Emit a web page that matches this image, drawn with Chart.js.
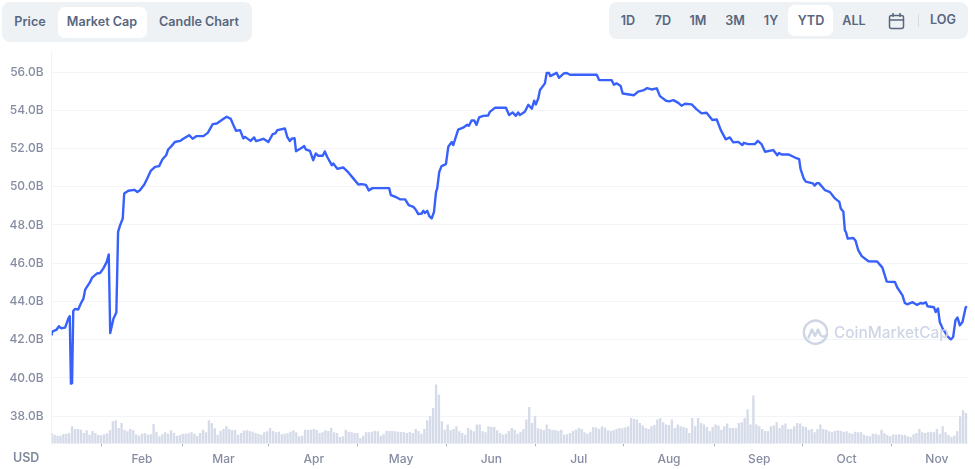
<!DOCTYPE html>
<html>
<head>
<meta charset="utf-8">
<title>Market Cap</title>
<script src="https://cdn.jsdelivr.net/npm/chart.js@4"></script>
<style>
  html, body { margin: 0; padding: 0; background: #fff; }
  body { width: 975px; height: 469px; position: relative; overflow: hidden; font-family: Inter, "Noto Sans", sans-serif; }
  canvas { position: absolute; left: 0; top: 0; }
  .group { position: absolute; background: #eff2f5; border-radius: 8px; }
  .active { position: absolute; background: #fff; border-radius: 7px; }
  .btn { position: absolute; font-weight: 600; font-size: 12.6px; line-height: 16px; color: #58667e; white-space: nowrap; transform: translateX(-50%); }
  .sep { position: absolute; left: 918px; top: 14px; width: 1px; height: 13px; background: #d6dbe4; }
  #usd { position: absolute; left: 13px; top: 449.5px; font-weight: 600; font-size: 12.5px; line-height: 16px; color: #808a9d; }
  #wm { position: absolute; left: 802px; top: 319px; width: 150px; height: 28px; }
  #wm span { position: absolute; left: 32px; top: 3px; font-size: 15.4px; line-height: 22px; font-weight: 500; color: #ced5e5; white-space: nowrap; }
  #wm svg { position: absolute; left: 0; top: 0; }
</style>
</head>
<body>
<canvas id="chart" width="975" height="469"></canvas>

<div class="group" style="left:2px;top:2px;width:250px;height:40px"></div>
<div class="active" style="left:58px;top:7px;width:89px;height:31px"></div>
<div class="btn" style="left:30px;top:14px">Price</div>
<div class="btn" style="left:102px;top:14px">Market Cap</div>
<div class="btn" style="left:199px;top:14px">Candle Chart</div>

<div class="group" style="left:609px;top:2px;width:359px;height:37px"></div>
<div class="active" style="left:788px;top:5px;width:45px;height:31px"></div>
<div class="btn" style="left:628px;top:13px">1D</div>
<div class="btn" style="left:663px;top:13px">7D</div>
<div class="btn" style="left:698px;top:13px">1M</div>
<div class="btn" style="left:735px;top:13px">3M</div>
<div class="btn" style="left:771px;top:13px">1Y</div>
<div class="btn" style="left:811px;top:13px">YTD</div>
<div class="btn" style="left:854px;top:13px">ALL</div>
<svg style="position:absolute;left:888px;top:12px" width="17" height="18" viewBox="0 0 17 18" fill="none" stroke="#58667e" stroke-width="1.5">
  <rect x="1.5" y="3.5" width="14" height="13" rx="2"/>
  <path d="M1.5 8h14M5 1v4M12 1v4"/>
</svg>
<div class="sep"></div>
<div class="btn" style="left:943px;top:12px">LOG</div>

<div id="usd">USD</div>

<div id="wm">
  <svg width="27" height="27" viewBox="0 0 27 27" fill="none" stroke="#ced5e5" stroke-width="2.4" stroke-linecap="round" stroke-linejoin="round">
    <path d="M25 14.5A11.6 11.6 0 1 1 25 12"/>
    <path d="M6.5 18.5 10 10.5 13 17 16 10.5 18.5 16c1 1.8 3 2 6 .5"/>
  </svg>
  <span>CoinMarketCap</span>
</div>

<script>
// days since Jan 1 and market cap in billions
const capDays = [
  0, 0.2, 1.7, 2.5, 3.2, 4.6, 5.7, 6.2, 6.6, 7.0, 7.4, 8.0, 9.1, 10.0, 10.9, 11.5, 13.2, 13.9, 15.5, 16.6,
  17.7, 18.9, 19.6, 20.1, 21.2, 22.2, 22.8, 23.5, 24.4, 24.9, 26.3, 28.4, 29.4, 30.3, 31.8, 32.8, 34.0, 35.5, 36.9, 38.0,
  39.3, 40.0, 41.2, 42.3, 44.1, 45.2, 47.2, 48.4, 49.8, 52.1, 53.6, 55.3, 56.7, 58.9, 60.1, 61.5, 62.4, 63.3, 64.7, 65.8,
  66.4, 68.3, 69.5, 70.2, 72.7, 74.4, 75.9, 76.8, 77.5, 80.1, 80.9, 81.8, 82.4, 83.4, 83.9, 85.9, 86.7, 87.3, 88.7, 89.8,
  90.7, 91.6, 93.1, 93.8, 94.6, 96.2, 96.7, 98.1, 100.1, 101.9, 103.8, 105.3, 106.5, 107.9, 108.9, 110.2, 115.9, 116.5, 118.5, 119.6,
  121.4, 122.6, 124.2, 125.0, 125.9, 127.1, 127.6, 128.2, 129.0, 129.7, 130.5, 131.3, 132.0, 132.4, 133.1, 133.9, 135.4, 136.2, 137.4, 137.9,
  139.6, 141.3, 142.7, 143.3, 144.2, 145.1, 145.9, 146.8, 148.2, 149.9, 150.5, 152.2, 156.0, 157.1, 158.3, 159.4, 160.2, 160.8, 162.5, 163.7,
  164.9, 165.7, 166.3, 167.1, 167.7, 169.4, 170.0, 170.8, 171.2, 173.4, 174.2, 175.9, 176.9, 178.0, 187.2, 188.0, 192.3, 193.1, 194.0, 195.4,
  196.1, 200.0, 201.4, 203.4, 204.5, 206.0, 207.8, 208.9, 211.0, 212.1, 213.5, 215.2, 216.3, 217.5, 219.8, 221.5, 223.2, 224.9, 226.9, 228.4,
  229.8, 231.5, 232.9, 234.1, 235.8, 237.2, 237.7, 239.2, 241.5, 242.5, 243.8, 245.0, 247.8, 249.2, 249.8, 250.7, 253.0, 255.3, 256.7, 257.2,
  258.3, 259.0, 261.4, 262.0, 262.8, 263.5, 265.6, 267.3, 269.0, 270.5, 271.0, 271.9, 272.4, 272.8, 273.4, 275.3, 276.1, 277.0, 278.2, 280.5,
  283.5, 285.3, 286.8, 289.6, 290.4, 292.2, 293.0, 293.8, 295.7, 297.2, 298.4, 299.2, 300.2, 300.8, 303.0, 303.6, 304.4, 305.0, 306.0, 306.8,
  307.6, 308.8, 309.6, 310.4, 311.1, 311.9, 312.8, 313.9, 314.3
];
const capValues = [
  42.23, 42.42, 42.53, 42.70, 42.60, 42.63, 43.10, 43.23, 39.70, 39.73, 43.50, 43.61, 43.58, 43.89, 44.15, 44.62, 45.02, 45.25, 45.46, 45.49,
  45.72, 46.07, 46.46, 42.35, 43.10, 43.42, 47.64, 47.99, 48.34, 49.65, 49.79, 49.84, 49.73, 49.82, 50.12, 50.43, 50.83, 51.04, 51.08, 51.43,
  51.65, 51.95, 52.14, 52.34, 52.40, 52.51, 52.70, 52.51, 52.65, 52.65, 52.82, 53.28, 53.31, 53.54, 53.66, 53.55, 53.23, 52.93, 52.96, 52.53,
  52.61, 52.40, 52.58, 52.39, 52.51, 52.34, 52.75, 52.79, 52.96, 53.05, 52.61, 52.39, 52.51, 52.54, 51.86, 52.04, 52.13, 51.95, 51.88, 51.39,
  51.74, 51.62, 51.62, 51.85, 51.57, 51.13, 51.22, 50.94, 51.01, 50.75, 50.40, 50.12, 50.14, 50.10, 49.81, 49.93, 49.93, 49.56, 49.44, 49.35,
  49.34, 49.04, 48.95, 48.81, 48.57, 48.60, 48.74, 48.63, 48.74, 48.46, 48.34, 48.69, 49.73, 49.91, 50.78, 51.08, 51.18, 52.09, 52.34, 52.18,
  52.99, 53.09, 53.24, 53.19, 53.47, 53.47, 53.24, 53.63, 53.71, 53.73, 53.92, 54.13, 54.13, 53.75, 53.89, 53.71, 53.89, 53.75, 53.92, 54.29,
  54.08, 54.50, 54.31, 54.62, 55.06, 55.41, 55.96, 55.96, 55.79, 55.96, 55.70, 55.93, 55.95, 55.86, 55.86, 55.58, 55.58, 55.34, 55.41, 55.27,
  54.88, 54.79, 54.98, 55.06, 55.16, 55.09, 55.15, 54.74, 54.50, 54.47, 54.53, 54.39, 54.24, 54.34, 54.31, 54.05, 53.84, 53.87, 53.49, 53.52,
  52.96, 52.48, 52.58, 52.32, 52.35, 52.18, 52.30, 52.23, 52.23, 52.40, 52.23, 51.83, 51.92, 51.65, 51.77, 51.69, 51.69, 51.53, 51.45, 50.92,
  50.42, 50.27, 50.18, 50.06, 50.19, 50.19, 49.82, 49.72, 49.39, 49.21, 48.86, 48.69, 47.73, 47.62, 47.29, 47.32, 47.17, 46.68, 46.37, 46.10,
  46.09, 45.77, 45.04, 45.02, 44.73, 44.32, 43.92, 43.85, 43.96, 43.82, 43.92, 43.89, 43.96, 43.75, 43.70, 43.45, 43.63, 42.93, 42.58, 42.40,
  42.19, 42.01, 42.14, 43.02, 43.16, 42.75, 42.93, 43.68, 43.75
];

// daily volume in billions, one value per day from Jan 1
const volumes = [
  3.0, 2.5, 2.2, 2.2, 2.7, 2.8, 3.0, 5.0, 4.2, 4.2,
  4.0, 3.0, 3.8, 2.5, 3.6, 3.0, 2.4, 2.3, 2.6, 2.9,
  3.8, 6.5, 6.8, 4.5, 6.0, 4.0, 3.5, 4.2, 3.8, 2.6,
  2.2, 2.8, 3.0, 2.5, 2.6, 5.7, 3.4, 2.0, 2.6, 3.2,
  2.8, 3.8, 3.0, 2.2, 2.4, 2.8, 2.8, 2.9, 3.2, 2.8,
  2.2, 3.0, 4.0, 3.2, 6.8, 6.0, 4.4, 2.5, 3.6, 4.2,
  5.0, 4.2, 3.8, 3.9, 2.5, 3.0, 3.7, 3.8, 3.6, 3.4,
  3.0, 2.7, 2.5, 3.2, 3.5, 4.5, 3.6, 3.2, 3.4, 2.6,
  2.8, 2.9, 3.4, 3.8, 3.2, 2.0, 2.2, 4.0, 3.9, 4.0,
  4.2, 3.9, 3.0, 3.2, 3.8, 3.6, 4.5, 3.2, 3.0, 1.8,
  2.0, 4.0, 3.4, 3.2, 3.0, 3.0, 1.5, 2.2, 3.2, 3.2,
  3.4, 3.7, 3.5, 2.2, 2.6, 3.7, 3.6, 3.6, 3.5, 3.4,
  3.3, 3.2, 3.0, 3.3, 3.0, 4.2, 3.6, 2.8, 4.2, 6.8,
  8.0, 10.5, 17.5, 14.5, 6.5, 4.0, 5.5, 3.8, 4.2, 5.0,
  3.5, 3.0, 2.5, 4.5, 4.0, 3.5, 5.5, 5.5, 3.5, 3.2,
  5.0, 4.8, 4.8, 3.8, 3.0, 2.5, 2.8, 3.6, 4.5, 4.0,
  2.8, 3.4, 4.2, 7.0, 10.8, 6.0, 8.0, 4.4, 4.2, 3.8,
  5.5, 4.2, 3.8, 3.9, 3.6, 4.0, 2.5, 2.6, 3.0, 3.6,
  4.0, 4.5, 4.2, 3.2, 2.8, 3.4, 4.8, 4.6, 4.2, 5.0,
  4.6, 3.8, 3.6, 3.8, 4.2, 4.5, 4.4, 4.6, 5.0, 7.5,
  7.2, 7.0, 6.0, 5.2, 4.5, 4.2, 5.0, 5.4, 7.0, 7.5,
  6.2, 5.5, 5.4, 7.0, 4.5, 5.5, 5.0, 4.8, 4.5, 3.0,
  7.5, 5.0, 7.5, 6.0, 5.5, 4.8, 3.5, 4.8, 5.5, 5.2,
  4.0, 5.0, 5.8, 4.5, 4.5, 4.4, 6.0, 6.2, 7.5, 10.0,
  5.5, 14.2, 5.5, 5.0, 4.2, 3.6, 3.5, 5.0, 5.2, 6.2,
  4.5, 5.4, 5.8, 4.2, 4.2, 5.0, 6.0, 5.8, 5.0, 4.8,
  4.0, 4.2, 3.2, 4.2, 5.5, 4.2, 4.0, 3.5, 3.2, 3.6,
  3.8, 3.6, 3.4, 3.5, 3.0, 2.8, 3.4, 3.2, 3.2, 2.5,
  2.2, 2.0, 2.8, 2.8, 2.5, 4.0, 3.0, 2.4, 2.0, 2.6,
  2.5, 2.6, 2.5, 2.5, 2.0, 1.8, 2.6, 3.0, 4.2, 3.2,
  3.0, 3.2, 3.4, 3.2, 4.2, 2.8, 5.0, 3.2, 2.4, 1.8,
  2.2, 3.5, 8.0, 9.8, 9.0
];

const monthDays = [31, 59, 90, 120, 151, 181, 212, 243, 273, 304];
const monthLabels = ["Feb", "Mar", "Apr", "May", "Jun", "Jul", "Aug", "Sep", "Oct", "Nov"];

new Chart(document.getElementById("chart").getContext("2d"), {
  data: {
    datasets: [
      {
        type: "line",
        order: 0,
        yAxisID: "y",
        data: capDays.map((d, i) => ({ x: d, y: capValues[i] })),
        borderColor: "#3861fb",
        borderWidth: 2.4,
        borderJoinStyle: "round",
        pointRadius: 0,
        tension: 0,
      },
      {
        type: "bar",
        order: 1,
        yAxisID: "vol",
        data: volumes.map((v, i) => ({ x: i, y: v })),
        backgroundColor: "#d5dbe8",
        barThickness: 1.7,
      },
    ],
  },
  options: {
    responsive: false,
    animation: false,
    layout: { padding: { top: 52, right: 7, left: 0, bottom: 0 } },
    plugins: { legend: { display: false }, tooltip: { enabled: false } },
    scales: {
      x: {
        type: "linear",
        offset: false,
        min: 0,
        max: 314.7,
        afterBuildTicks: (axis) => { axis.ticks = monthDays.map(v => ({ value: v })); },
        afterFit: (axis) => { axis.height = 25.7; },
        ticks: {
          autoSkip: false,
          maxRotation: 0,
          color: "#858ca2",
          font: { family: "Inter", size: 12, weight: "500" },
          padding: 6,
          callback: (v) => monthLabels[monthDays.indexOf(v)],
        },
        grid: { drawOnChartArea: false, tickLength: 3, tickColor: "#a6b0c3" },
        border: { color: "#f1f3f6" },
      },
      y: {
        min: 36.58,
        max: 57.05,
        afterBuildTicks: (axis) => {
          axis.ticks = [38, 40, 42, 44, 46, 48, 50, 52, 54, 56].map(v => ({ value: v }));
        },
        afterFit: (axis) => { axis.width = 51.7; },
        ticks: {
          color: "#858ca2",
          font: { family: "Inter", size: 12, weight: "500" },
          padding: 8,
          callback: (v) => `${v.toFixed(1)}B`,
        },
        grid: { color: "#f3f4f7", tickLength: 0, lineWidth: 1 },
        border: { color: "#f1f3f6" },
      },
      vol: {
        display: false,
        min: 0,
        max: 117.3,
      },
    },
  },
});
</script>
</body>
</html>
